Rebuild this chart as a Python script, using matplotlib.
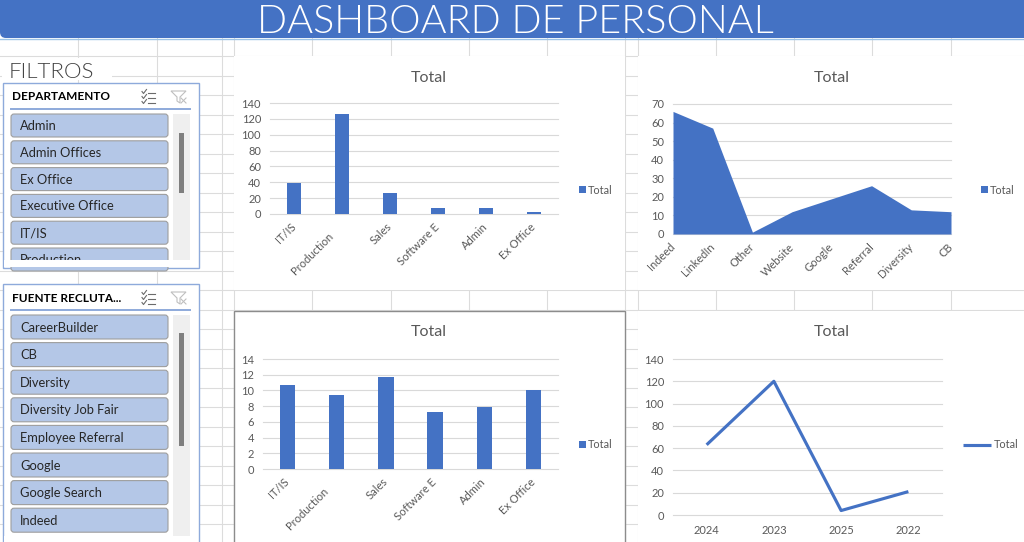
import matplotlib
matplotlib.use("Agg")
import matplotlib.pyplot as plt
from matplotlib.patches import Rectangle, FancyBboxPatch, Polygon

plt.rcParams['font.family'] = ['Lato', 'DejaVu Sans']

# datos
dept_labels = ['IT/IS', 'Production     ', 'Sales', 'Software E', 'Admin', 'Ex Office']
dept_counts = [39, 126, 26, 7, 7, 2]
dept_avg = [10.7, 9.4, 11.7, 7.3, 7.9, 10.0]
source_labels = ['Indeed', 'LinkedIn', 'Other', 'Website', 'Google', 'Referral', 'Diversity', 'CB']
source_counts = [66, 57, 1, 12, 19, 26, 13, 12]
year_labels = ['2024', '2023', '2025', '2022']
year_counts = [63, 120, 4, 21]

slicer_dept = ['Admin', 'Admin Offices', 'Ex Office', 'Executive Office', 'IT/IS', 'Production']
slicer_source = ['CareerBuilder', 'CB', 'Diversity', 'Diversity Job Fair', 'Employee Referral',
                 'Google', 'Google Search', 'Indeed']

BLUE = '#4472C4'
GRAY = '#595959'
W, H = 1024, 542

fig = plt.figure(figsize=(W / 100, H / 100), dpi=100)
bg = fig.add_axes([0, 0, 1, 1])
bg.set_xlim(0, W)
bg.set_ylim(H, 0)
bg.axis('off')

# rejilla de la hoja
col_x = [78, 157, 222, 234, 312, 391, 469, 547, 625, 638, 716, 794, 872, 951]
row_y = [56, 75.5] + [95 + 19.5 * i for i in range(24)]
for x in col_x:
    bg.plot([x, x], [38, H], color='#dcdcdc', lw=0.8, zorder=0)
for y in row_y:
    bg.plot([0, W], [y, y], color='#dcdcdc', lw=0.8, zorder=0)

# cabecera
bg.add_patch(FancyBboxPatch((0, -20), W + 20, 58, boxstyle='round,pad=0,rounding_size=6',
                            fc=BLUE, ec='none', zorder=3))
bg.plot([0, W], [38.8, 38.8], color='#9dc3e6', lw=1, zorder=3)
bg.text(515, 33, 'DASHBOARD DE PERSONAL', ha='center', va='baseline', fontsize=28.5,
        color='white', fontweight=300, zorder=4)
bg.add_patch(Rectangle((2, 58), 110, 22, fc='white', ec='none', zorder=1))
bg.text(9, 78, 'FILTROS', ha='left', va='baseline', fontsize=16, color='#404040',
        fontweight=300, zorder=4)


def slicer(y0, y1, title, items, top, pitch, item_h, clip_y, thumb):
    bg.add_patch(Rectangle((3, y0), 196, y1 - y0, fc='white', ec='#8eaadb', lw=1, zorder=2))
    yc = y0 + 14
    bg.text(12, yc, title, ha='left', va='center', fontsize=8.5, fontweight='bold',
            color='#000000', zorder=4)
    bg.plot([11, 190], [y0 + 26, y0 + 26], color='#8eaadb', lw=1.4, zorder=4)
    # icono multiseleccion
    for dy in (-5, 0, 5):
        bg.plot([142, 143.5, 146.5], [yc + dy - 0.5, yc + dy + 1.5, yc + dy - 2.5],
                color='#6b6b6b', lw=0.8, zorder=4)
        bg.plot([148, 155], [yc + dy + 0.5, yc + dy + 0.5], color='#6b6b6b', lw=0.8, zorder=4)
    # icono borrar filtro
    bg.add_patch(Polygon([(171, yc - 6), (186, yc - 6), (180, yc), (180, yc + 6),
                          (177, yc + 4), (177, yc)], closed=True, fc='none',
                         ec='#bfbfbf', lw=0.8, zorder=4))
    bg.plot([181, 186], [yc + 1, yc + 6], color='#bfbfbf', lw=0.8, zorder=4)
    bg.plot([181, 186], [yc + 6, yc + 1], color='#bfbfbf', lw=0.8, zorder=4)
    for i, name in enumerate(items):
        t = top + pitch * i
        bg.add_patch(FancyBboxPatch((11, t), 157, item_h, boxstyle='round,pad=0,rounding_size=3',
                                    fc='#b4c7e7', ec='#9e9e9e', lw=0.8, zorder=3))
        bg.text(20, t + item_h / 2 + 0.5, name, ha='left', va='center', fontsize=9.3,
                color='#262626', zorder=4)
    bg.add_patch(Rectangle((173, top), 17, clip_y - top, fc='#efefef', ec='none', zorder=3))
    bg.add_patch(Rectangle((179, thumb[0]), 5, thumb[1] - thumb[0], fc='#7f7f7f',
                           ec='none', zorder=4))
    if clip_y < y1:
        bg.add_patch(Rectangle((4, clip_y), 194, y1 - clip_y - 1, fc='white', ec='none', zorder=5))


slicer(83, 268, 'DEPARTAMENTO', slicer_dept, 114, 26.8, 23, 260, (133, 193))
slicer(284, 560, 'FUENTE RECLUTA...', slicer_source, 315, 27.6, 24, 536, (333, 446))

# paneles de graficos
bg.add_patch(Rectangle((234, 56), 391, 234, fc='white', ec='none', zorder=2))
bg.add_patch(Rectangle((638, 56), 400, 234, fc='white', ec='none', zorder=2))
bg.add_patch(Rectangle((234, 311), 391, 240, fc='white', ec='#8c8c8c', lw=1, zorder=2))
bg.add_patch(Rectangle((638, 311), 400, 240, fc='white', ec='none', zorder=2))


def px_axes(x0, y0, x1, y1):
    ax = fig.add_axes([x0 / W, 1 - y1 / H, (x1 - x0) / W, (y1 - y0) / H])
    ax.patch.set_alpha(0)
    for s in ax.spines.values():
        s.set_visible(False)
    ax.tick_params(length=0, colors=GRAY, labelsize=8)
    ax.grid(axis='y', color='#d9d9d9', lw=0.8)
    ax.set_axisbelow(True)
    return ax


def finish(ax, yticks, title_xy, leg_xy, rotate=True, line=False):
    ax.set_yticks(yticks)
    ax.set_ylim(yticks[0], yticks[-1])
    ax.tick_params(axis='y', pad=6.5)
    for gl in ax.get_ygridlines():
        gl.set_clip_on(False)
    if rotate:
        plt.setp(ax.get_xticklabels(), rotation=45, ha='right', va='center',
                 rotation_mode='anchor')
        ax.tick_params(axis='x', pad=8)
    else:
        ax.tick_params(axis='x', pad=7)
    fig.text(title_xy[0] / W, 1 - title_xy[1] / H, 'Total', ha='center', va='center',
             fontsize=11.5, color=GRAY)
    ax.legend(loc='center left', bbox_to_anchor=(leg_xy[0] / W, 1 - leg_xy[1] / H),
              bbox_transform=fig.transFigure, frameon=False, fontsize=7.8,
              handlelength=2.6 if line else 0.6, handleheight=0.6, handletextpad=0.2,
              borderpad=0, borderaxespad=0, labelcolor=GRAY)


# grafico 1: empleados por departamento
ax1 = px_axes(270, 103, 558, 214)
ax1.bar(range(len(dept_counts)), dept_counts, width=0.31, color=BLUE, label='Total')
ax1.set_xlim(-0.5, len(dept_counts) - 0.5)
ax1.set_xticks(range(len(dept_labels)))
ax1.set_xticklabels(dept_labels)
finish(ax1, list(range(0, 141, 20)), (429, 78), (579, 190))

# grafico 2: fuente de reclutamiento
ax2 = px_axes(673, 104, 951, 234)
ax2.fill_between(range(len(source_counts)), source_counts, color=BLUE, lw=0, label='Total')
ax2.set_xlim(0, len(source_counts) - 1)
ax2.set_xticks(range(len(source_labels)))
ax2.set_xticklabels(source_labels)
finish(ax2, list(range(0, 71, 10)), (832, 78), (981, 190))

# grafico 3: promedio por departamento
ax3 = px_axes(263, 359, 558, 469)
ax3.bar(range(len(dept_avg)), dept_avg, width=0.31, color=BLUE, label='Total')
ax3.set_xlim(-0.5, len(dept_avg) - 0.5)
ax3.set_xticks(range(len(dept_labels)))
ax3.set_xticklabels(dept_labels)
finish(ax3, list(range(0, 15, 2)), (429, 332), (579, 445))

# grafico 4: por año
ax4 = px_axes(673, 359, 942, 515)
ax4.plot(range(len(year_counts)), year_counts, color=BLUE, lw=2.25, label='Total',
         solid_capstyle='butt')
ax4.set_xlim(-0.5, len(year_counts) - 0.5)
ax4.set_xticks(range(len(year_labels)))
ax4.set_xticklabels(year_labels)
finish(ax4, list(range(0, 141, 20)), (832, 332), (963, 445), rotate=False, line=True)

fig.savefig('out.png', dpi=100)
